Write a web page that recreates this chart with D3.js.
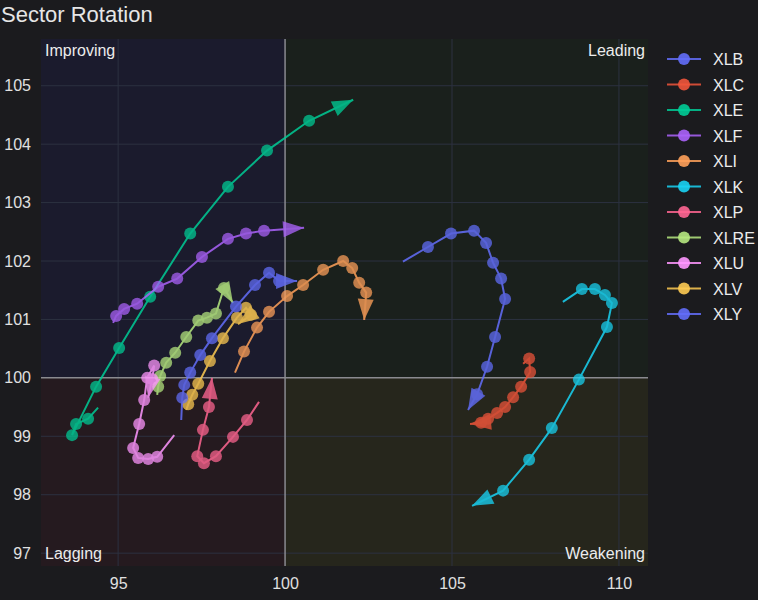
<!DOCTYPE html>
<html>
<head>
<meta charset="utf-8">
<script src="https://cdn.jsdelivr.net/npm/d3@7"></script>
<style>
  html, body { margin: 0; padding: 0; background: #1b1b1e; }
  svg { display: block; }
  text { font-family: "Liberation Sans", Arial, sans-serif; }
</style>
</head>
<body>
<svg id="chart" width="758" height="600"></svg>
<script>
// ---- data ----
const sectors = ["XLB", "XLC", "XLE", "XLF", "XLI", "XLK", "XLP", "XLRE", "XLU", "XLV", "XLY"];
const colors  = ["#636efa", "#ef553b", "#00cc96", "#ab63fa", "#ffa15a", "#19d3f3", "#ff6692", "#b6e880", "#ff97ff", "#fecb52", "#636efa"];

const xlbX  = [103.53, 104.28, 104.97, 105.66, 106.02, 106.23, 106.47, 106.59, 106.29, 106.05, 105.75, 105.48];
const xlbY  = [101.99, 102.24, 102.47, 102.52, 102.31, 101.97, 101.70, 101.35, 100.70, 100.19, 99.72, 99.45];
const xlcX  = [107.13, 107.31, 107.34, 107.07, 106.83, 106.59, 106.35, 106.08, 105.87, 105.54];
const xlcY  = [100.24, 100.33, 100.10, 99.85, 99.67, 99.50, 99.40, 99.30, 99.23, 99.21];
const xleX  = [94.40, 94.10, 93.74, 93.62, 94.34, 95.03, 95.96, 97.16, 98.29, 99.46, 100.72, 102.04];
const xleY  = [99.49, 99.30, 99.21, 99.02, 99.85, 100.51, 101.39, 102.47, 103.27, 103.89, 104.40, 104.76];
const xlfX  = [94.85, 94.94, 95.18, 95.57, 96.20, 96.77, 97.51, 98.29, 98.83, 99.37, 100.57];
const xlfY  = [100.94, 101.06, 101.18, 101.27, 101.56, 101.70, 102.07, 102.38, 102.47, 102.52, 102.57];
const xliX  = [98.50, 98.77, 99.16, 99.52, 100.06, 100.54, 101.14, 101.74, 102.01, 102.22, 102.43, 102.37];
const xliY  = [100.09, 100.45, 100.86, 101.13, 101.40, 101.59, 101.85, 102.00, 101.88, 101.63, 101.46, 100.99];
const xlkX  = [108.32, 108.89, 109.28, 109.58, 109.79, 109.64, 108.80, 107.99, 107.31, 106.53, 105.60];
const xlkY  = [101.30, 101.52, 101.52, 101.42, 101.28, 100.87, 99.97, 99.14, 98.60, 98.07, 97.81];
const xlpX  = [99.22, 98.86, 98.44, 97.93, 97.57, 97.37, 97.54, 97.72, 97.81];
const xlpY  = [99.59, 99.28, 98.99, 98.66, 98.54, 98.66, 99.11, 99.50, 100.00];
const xlreX = [96.17, 96.20, 96.26, 96.44, 96.71, 97.04, 97.40, 97.66, 97.93, 98.17, 98.44];
const xlreY = [99.71, 99.85, 100.03, 100.26, 100.43, 100.70, 100.98, 101.03, 101.10, 101.54, 101.28];
const xluX  = [96.68, 96.17, 95.90, 95.60, 95.45, 95.63, 95.78, 95.87, 96.08, 96.02, 95.90];
const xluY  = [99.02, 98.65, 98.61, 98.63, 98.80, 99.21, 99.62, 100.00, 100.21, 99.98, 99.66];
const xlvX  = [97.04, 97.10, 97.22, 97.40, 97.75, 98.14, 98.56, 98.83, 98.98, 98.59];
const xlvY  = [99.45, 99.55, 99.71, 99.90, 100.29, 100.68, 101.03, 101.20, 101.08, 100.92];
const xlyX  = [96.89, 96.92, 96.98, 97.16, 97.46, 97.81, 98.53, 99.10, 99.52, 99.82, 100.36];
const xlyY  = [99.28, 99.66, 99.88, 100.09, 100.39, 100.68, 101.22, 101.59, 101.80, 101.66, 101.66];

const xTicks = [95, 100, 105, 110];
const yTicks = [97, 98, 99, 100, 101, 102, 103, 104, 105];
const quadrantNames = ["Improving", "Leading", "Lagging", "Weakening"];

const seriesX = [xlbX, xlcX, xleX, xlfX, xliX, xlkX, xlpX, xlreX, xluX, xlvX, xlyX];
const seriesY = [xlbY, xlcY, xleY, xlfY, xliY, xlkY, xlpY, xlreY, xluY, xlvY, xlyY];

// ---- layout ----
const svg = d3.select("#chart");
const L = 41, R = 648, T = 39, B = 566;
const x = d3.scaleLinear().domain([92.69, 110.87]).range([L, R]);
const y = d3.scaleLinear().domain([96.78, 105.80]).range([B, T]);

svg.append("rect").attr("width", 758).attr("height", 600).attr("fill", "#1b1b1e");

// quadrants
const quads = [
  {x0: x.domain()[0], x1: 100, y0: 100, y1: y.domain()[1], fill: "#1b1b2d"},
  {x0: 100, x1: x.domain()[1], y0: 100, y1: y.domain()[1], fill: "#1a201c"},
  {x0: x.domain()[0], x1: 100, y0: y.domain()[0], y1: 100, fill: "#251a1f"},
  {x0: 100, x1: x.domain()[1], y0: y.domain()[0], y1: 100, fill: "#26261c"}
];
svg.append("g").selectAll("rect").data(quads).join("rect")
  .attr("x", d => x(d.x0)).attr("y", d => y(d.y1))
  .attr("width", d => x(d.x1) - x(d.x0)).attr("height", d => y(d.y0) - y(d.y1))
  .attr("fill", d => d.fill);

// grid
const grid = svg.append("g");
grid.selectAll("line.gx").data(xTicks.filter(v => v !== 100)).join("line")
  .attr("x1", d => x(d)).attr("x2", d => x(d)).attr("y1", T).attr("y2", B)
  .attr("stroke", "#2c3140").attr("stroke-width", 1);
grid.selectAll("line.gy").data(yTicks.filter(v => v !== 100)).join("line")
  .attr("y1", d => y(d)).attr("y2", d => y(d)).attr("x1", L).attr("x2", R)
  .attr("stroke", "#2c3140").attr("stroke-width", 1);

// center lines
svg.append("line").attr("x1", x(100)).attr("x2", x(100)).attr("y1", T).attr("y2", B)
  .attr("stroke", "#8a8a90").attr("stroke-width", 1.5);
svg.append("line").attr("x1", L).attr("x2", R).attr("y1", y(100)).attr("y2", y(100))
  .attr("stroke", "#8a8a90").attr("stroke-width", 1.5);

// axes (labels only)
const xAxis = d3.axisBottom(x).tickValues(xTicks).tickSize(0).tickPadding(0);
const gx = svg.append("g").attr("transform", `translate(0,${B + 18})`).call(xAxis);
gx.select(".domain").remove();
gx.selectAll("text").attr("fill", "#e0e0e0").attr("font-size", 16).attr("dy", "0.32em");

const yAxis = d3.axisLeft(y).tickValues(yTicks).tickSize(0).tickPadding(0);
const gy = svg.append("g").attr("transform", `translate(31,0)`).call(yAxis);
gy.select(".domain").remove();
gy.selectAll("text").attr("fill", "#e0e0e0").attr("font-size", 16);

// quadrant labels
const ql = svg.append("g").attr("fill", "#ececec").attr("font-size", 16);
ql.append("text").attr("x", L + 4).attr("y", T + 17).text(quadrantNames[0]);
ql.append("text").attr("x", R - 3).attr("y", T + 17).attr("text-anchor", "end").text(quadrantNames[1]);
ql.append("text").attr("x", L + 4).attr("y", B - 7).text(quadrantNames[2]);
ql.append("text").attr("x", R - 3).attr("y", B - 7).attr("text-anchor", "end").text(quadrantNames[3]);

// tracks
const line = d3.line().x(d => x(d[0])).y(d => y(d[1]));
const tracks = svg.append("g");
sectors.forEach((s, i) => {
  const pts = seriesX[i].map((v, j) => [v, seriesY[i][j]]);
  const g = tracks.append("g").attr("opacity", 0.85);
  g.append("path").attr("d", line(pts)).attr("fill", "none")
    .attr("stroke", colors[i]).attr("stroke-width", 2);
  g.selectAll("circle").data(pts.slice(1, -1)).join("circle")
    .attr("cx", d => x(d[0])).attr("cy", d => y(d[1])).attr("r", 6)
    .attr("fill", colors[i]).attr("opacity", 0.85);
  const a = pts[pts.length - 1], b = pts[pts.length - 2];
  const ax = x(a[0]), ay = y(a[1]), bx = x(b[0]), by = y(b[1]);
  const ang = Math.atan2(ay - by, ax - bx) * 180 / Math.PI;
  g.append("path").attr("d", "M0,0L-21,-8L-21,8Z")
    .attr("transform", `translate(${ax},${ay}) rotate(${ang})`)
    .attr("fill", colors[i]).attr("opacity", 0.9);
});

// legend
const lg = svg.append("g");
sectors.forEach((s, i) => {
  const yy = 59 + i * 25.5;
  lg.append("line").attr("x1", 667).attr("x2", 701).attr("y1", yy).attr("y2", yy)
    .attr("stroke", colors[i]).attr("stroke-width", 2).attr("opacity", 0.85);
  lg.append("circle").attr("cx", 684).attr("cy", yy).attr("r", 6)
    .attr("fill", colors[i]).attr("opacity", 0.9);
  lg.append("text").attr("x", 713).attr("y", yy + 6).attr("fill", "#ececec")
    .attr("font-size", 16).text(s);
});

// title
svg.append("text").attr("x", 1).attr("y", 22).attr("fill", "#e6e6e6")
  .attr("font-size", 22).text("Sector Rotation");
</script>
</body>
</html>
